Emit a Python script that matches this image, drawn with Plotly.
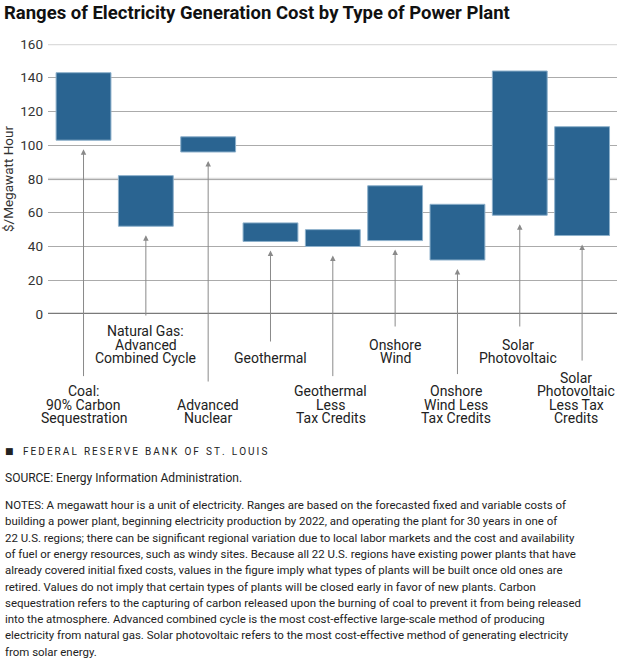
import plotly.graph_objects as go

categories = [
    "Coal:\n90% Carbon\nSequestration",
    "Natural Gas:\nAdvanced\nCombined Cycle",
    "Advanced\nNuclear",
    "Geothermal",
    "Geothermal\nLess\nTax Credits",
    "Onshore\nWind",
    "Onshore\nWind Less\nTax Credits",
    "Solar\nPhotovoltaic",
    "Solar\nPhotovoltaic\nLess Tax\nCredits",
]
low_cost = [103, 52, 96, 43, 40, 43.5, 32, 58.5, 46.5]
high_cost = [143, 82, 105, 54, 50, 76, 65, 144, 111]
y_ticks = [0, 20, 40, 60, 80, 100, 120, 140, 160]

notes_lines = [
    "NOTES: A megawatt hour is a unit of electricity. Ranges are based on the forecasted fixed and variable costs of",
    "building a power plant, beginning electricity production by 2022, and operating the plant for 30 years in one of",
    "22 U.S. regions; there can be significant regional variation due to local labor markets and the cost and availability",
    "of fuel or energy resources, such as windy sites. Because all 22 U.S. regions have existing power plants that have",
    "already covered initial fixed costs, values in the figure imply what types of plants will be built once old ones are",
    "retired. Values do not imply that certain types of plants will be closed early in favor of new plants. Carbon",
    "sequestration refers to the capturing of carbon released upon the burning of coal to prevent it from being released",
    "into the atmosphere. Advanced combined cycle is the most cost-effective large-scale method of producing",
    "electricity from natural gas. Solar photovoltaic refers to the most cost-effective method of generating electricity",
    "from solar energy.",
]

# ---- layout / decoration constants (pixels) ----
W, H = 621, 668
M_L, M_R, M_T, M_B = 48, 4, 44, 354
PLOT_H = H - M_T - M_B
FONT = "Roboto"

def py(pix):
    """pixel y (from top of figure) -> paper y"""
    return (H - M_B - pix) / PLOT_H

def px(pix):
    return (pix - M_L) / (W - M_L - M_R)

label_row = [1, 0, 1, 0, 1, 0, 1, 0, 1]
label_xshift = [0, 0, 0, 0, -2, 0, -1, -2, -6]
leader_end = [-37.7, -1.8, -40.9, -17.2, -37.7, -8.3, -36.5, -8.3, -28.5]
row_last_line_px = [358, 418]
LINE_STEP = 13.5

xs = list(range(len(categories)))

fig = go.Figure()
fig.add_trace(go.Bar(
    x=xs,
    y=[h - l for h, l in zip(high_cost, low_cost)],
    base=low_cost,
    width=0.88,
    marker=dict(color="#2a6491", line=dict(color="#8db0cb", width=1)),
    hoverinfo="skip",
))

annotations = []
for i in xs:
    annotations.append(dict(
        x=i, y=low_cost[i], xref="x", yref="y",
        ax=i, ay=leader_end[i], axref="x", ayref="y",
        text="", showarrow=True, arrowhead=2, arrowsize=1.1, arrowwidth=1,
        arrowcolor="#8a8a8a", standoff=9,
    ))
    lines = categories[i].split("\n")
    n = len(lines)
    for j, ln in enumerate(lines):
        ypix = row_last_line_px[label_row[i]] - (n - 1 - j) * LINE_STEP
        annotations.append(dict(
            x=i, y=py(ypix), xref="x", yref="paper",
            xshift=label_xshift[i], yanchor="middle", xanchor="center",
            text=ln, showarrow=False, borderpad=0,
            font=dict(family=FONT, size=14, color="#222222"),
        ))

annotations.append(dict(
    x=px(3), y=py(451), xref="paper", yref="paper", xanchor="left", yanchor="middle",
    text="\u25A0", showarrow=False, font=dict(family="DejaVu Sans", size=9, color="#222222"),
))
annotations.append(dict(
    x=px(21), y=py(451), xref="paper", yref="paper", xanchor="left", yanchor="middle",
    text="F E D E R A L \u2002R E S E R V E \u2002B A N K \u2002O F \u2002S T . \u2002L O U I S".replace(" ", "\u2009"),
    showarrow=False, font=dict(family=FONT, size=10, color="#222222"),
))
annotations.append(dict(
    x=px(3), y=py(478), xref="paper", yref="paper", xanchor="left", yanchor="middle",
    text="SOURCE: Energy Information Administration.",
    showarrow=False, font=dict(family=FONT, size=12, color="#222222"),
))
for k, line in enumerate(notes_lines):
    annotations.append(dict(
        x=px(3), y=py(505 + k * 16.3), xref="paper", yref="paper",
        xanchor="left", yanchor="middle", text=line, showarrow=False,
        font=dict(family=FONT, size=11.45, color="#222222"),
    ))

shapes = [
    dict(type="line", xref="paper", yref="y", x0=0, x1=1, y0=v, y1=v,
         line=dict(color="#dcdcdc", width=2.5), layer="between")
    for v in (80, 160)
]
shapes.append(dict(type="line", xref="paper", yref="y", x0=0, x1=1, y0=0, y1=0,
                   line=dict(color="#7a7a7a", width=2.5), layer="above"))

fig.update_layout(
    width=W, height=H,
    margin=dict(l=M_L, r=M_R, t=M_T, b=M_B),
    paper_bgcolor="white", plot_bgcolor="white",
    showlegend=False,
    title=dict(text="<b>Ranges of Electricity Generation Cost by Type of Power Plant</b>",
               x=4 / W, xanchor="left", y=1 - 13 / H, yanchor="middle",
               font=dict(family=FONT, size=18.5, color="#111111")),
    xaxis=dict(range=[-0.57, 8.56], showticklabels=False, showgrid=False,
               zeroline=False, showline=False, ticks=""),
    yaxis=dict(range=[0, 160], tickvals=y_ticks, ticktext=[str(v) for v in y_ticks],
               showgrid=True, gridcolor="#ababab", gridwidth=1, zeroline=False,
               showline=False, ticks="", ticklabelstandoff=4,
               tickfont=dict(family=FONT, size=13.5, color="#333333"),
               title=dict(text="$/Megawatt Hour", standoff=5,
                          font=dict(family=FONT, size=13.5, color="#333333"))),
    annotations=annotations,
    shapes=shapes,
    bargap=0.12,
)

fig.write_html("out.html", config={"displayModeBar": False},
               post_script="document.body.style.margin='0';")
